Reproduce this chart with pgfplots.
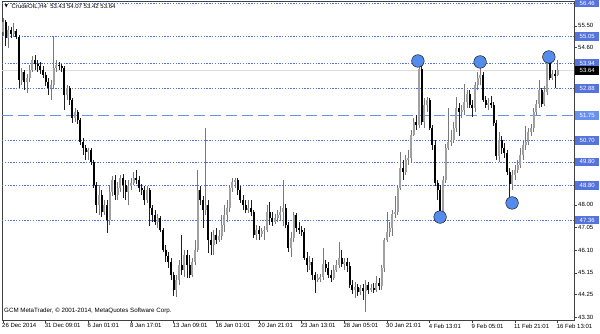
\documentclass[border=0pt]{standalone}
\usepackage{fontspec}
\setmainfont{Liberation Sans}
\newfontfamily\symfont{DejaVu Sans}
\usepackage{pgfplots}
\usepackage{pgfplotstable}
\pgfplotsset{compat=1.18}
\definecolor{lineblue}{RGB}{85,115,220}
\definecolor{dashblue}{RGB}{105,145,240}
\definecolor{circblue}{RGB}{85,140,235}
\definecolor{upgray}{RGB}{160,160,160}
\definecolor{upwick}{RGB}{120,120,120}
\definecolor{wickdn}{RGB}{30,30,30}
\pgfplotstableread{
i o h l c
0 55.25 55.83 55.08 55.66
1 55.66 55.75 54.66 54.99
2 54.99 55.50 54.57 55.33
3 55.33 55.45 54.99 55.16
4 55.16 55.62 55.04 55.29
5 55.29 55.37 54.95 55.04
6 55.04 55.12 52.90 53.23
7 53.23 53.74 53.02 53.57
8 53.57 53.65 52.81 53.15
9 53.15 53.48 52.69 53.32
10 53.32 53.86 53.15 53.65
11 53.65 54.24 53.57 54.07
12 54.07 54.28 53.65 53.90
13 53.90 54.07 53.57 53.82
14 53.82 53.99 53.48 53.65
15 53.65 53.82 53.32 53.44
16 53.44 53.57 52.98 53.15
17 53.15 53.32 52.60 52.90
18 52.90 53.23 52.40 53.02
19 53.02 55.04 52.90 53.74
20 53.74 54.07 53.57 53.86
21 53.86 53.99 53.65 53.82
22 53.82 53.90 53.57 53.74
23 53.74 53.82 51.98 52.60
24 52.60 53.02 52.40 52.90
25 52.90 52.98 52.19 52.40
26 52.40 52.48 51.43 51.64
27 51.64 52.06 51.47 51.89
28 51.89 51.98 51.39 51.56
29 51.56 51.64 50.51 50.63
30 50.63 50.80 50.09 50.38
31 50.38 50.51 49.88 50.22
32 50.22 50.38 49.88 50.30
33 50.30 50.38 49.67 49.80
34 49.80 49.88 48.71 48.83
35 48.83 48.96 47.66 47.99
36 47.99 48.83 47.57 48.41
37 48.41 48.62 47.49 47.70
38 47.70 48.20 47.57 47.99
39 47.99 48.20 46.82 47.37
40 47.37 48.79 47.16 48.54
41 48.54 49.21 48.37 49.04
42 49.04 49.25 48.20 48.41
43 48.41 48.96 48.20 48.71
44 48.71 49.25 48.54 49.13
45 49.13 49.29 48.29 48.83
46 48.83 49.04 48.20 48.54
47 48.54 49.04 47.99 48.79
48 48.79 49.13 48.62 48.92
49 48.92 49.38 48.83 49.13
50 49.13 49.46 48.87 49.04
51 49.04 49.21 48.54 48.71
52 48.71 48.87 48.41 48.62
53 48.62 48.79 47.99 48.20
54 48.20 48.79 48.08 48.62
55 48.62 48.71 47.11 47.87
56 47.87 47.99 47.28 47.57
57 47.57 47.78 47.16 47.28
58 47.28 47.62 47.03 47.45
59 47.45 47.53 46.86 46.95
60 46.95 47.03 46.02 46.11
61 46.11 46.32 45.61 45.86
62 45.86 46.02 45.36 45.61
63 45.61 45.77 44.85 45.06
64 45.06 45.19 44.18 44.43
65 44.43 45.06 44.14 44.85
66 44.85 45.69 44.64 45.48
67 45.48 46.74 45.06 45.27
68 45.27 46.11 44.98 45.90
69 45.90 46.11 44.94 45.48
70 45.48 45.90 44.94 45.06
71 45.06 45.77 44.98 45.61
72 45.61 46.53 45.48 46.11
73 46.11 49.46 46.02 48.62
74 48.62 48.79 47.99 48.20
75 48.20 48.37 47.03 47.78
76 47.78 51.22 47.57 47.99
77 47.99 48.20 45.98 46.53
78 46.53 46.86 45.90 46.32
79 46.32 46.95 45.90 46.74
80 46.74 47.03 46.36 46.53
81 46.53 46.95 46.44 46.70
82 46.70 47.57 46.53 47.16
83 47.16 47.99 46.86 47.57
84 47.57 48.20 47.28 47.87
85 47.87 48.83 47.70 48.71
86 48.71 49.13 48.54 48.96
87 48.96 49.13 48.71 49.04
88 49.04 49.13 48.41 48.62
89 48.62 48.79 48.08 48.20
90 48.20 48.41 47.78 47.99
91 47.99 48.20 47.66 47.78
92 47.78 48.20 47.66 47.87
93 47.87 48.20 47.53 47.70
94 47.70 47.78 46.61 46.74
95 46.74 47.16 46.53 46.95
96 46.95 47.11 46.53 46.78
97 46.78 47.03 46.65 46.90
98 46.90 47.11 46.53 46.95
99 46.95 47.99 46.86 47.70
100 47.70 48.12 47.16 47.45
101 47.45 47.70 47.11 47.28
102 47.28 47.62 47.20 47.45
103 47.45 47.78 47.28 47.57
104 47.57 47.95 47.37 47.70
105 47.70 49.04 47.11 47.87
106 47.87 48.04 47.03 47.16
107 47.16 47.28 46.02 46.19
108 46.19 46.86 45.82 46.61
109 46.61 47.70 46.44 47.57
110 47.57 47.66 46.86 47.03
111 47.03 47.28 46.78 46.95
112 46.95 47.11 46.70 46.86
113 46.86 47.03 45.69 45.77
114 45.77 46.02 45.19 45.48
115 45.48 45.86 45.27 45.61
116 45.61 45.77 44.85 45.06
117 45.06 45.19 44.31 44.85
118 44.85 45.10 44.77 44.94
119 44.89 45.10 44.77 44.98
120 44.98 46.19 44.85 45.52
121 45.52 45.69 45.19 45.36
122 45.36 45.61 44.94 45.06
123 45.06 45.27 44.77 44.94
124 44.94 45.48 44.85 45.27
125 45.27 45.69 45.19 45.48
126 45.48 46.44 45.36 45.77
127 45.77 46.11 45.40 45.52
128 45.52 45.77 45.27 45.61
129 45.61 45.77 45.19 45.44
130 45.44 45.61 44.52 44.64
131 44.64 44.85 44.27 44.43
132 44.43 44.77 44.10 44.56
133 44.56 44.68 44.18 44.35
134 44.35 44.64 44.22 44.52
135 44.52 44.68 44.01 44.39
136 44.39 44.85 43.51 44.64
137 44.64 44.77 44.27 44.43
138 44.43 44.68 44.35 44.52
139 44.52 44.73 44.31 44.43
140 44.43 45.02 44.35 44.73
141 44.73 44.94 44.43 44.60
142 44.60 45.48 44.43 45.36
143 45.36 46.61 45.19 46.53
144 46.53 47.70 46.44 46.86
145 46.86 47.28 46.65 47.03
146 47.03 47.78 46.70 47.62
147 47.62 48.37 47.45 47.70
148 47.70 48.83 47.57 48.71
149 48.71 50.22 48.62 49.54
150 49.54 49.88 49.04 49.38
151 49.38 50.09 49.25 49.88
152 49.88 50.30 49.67 49.96
153 49.96 51.14 49.80 50.93
154 50.93 51.64 50.89 51.47
155 51.47 51.77 51.14 51.35
156 51.35 54.07 51.22 53.69
157 53.69 53.82 51.35 51.47
158 51.47 52.48 51.22 52.19
159 52.19 52.52 51.89 52.40
160 52.40 52.48 51.14 51.22
161 51.22 51.35 50.30 50.51
162 50.51 50.72 48.79 48.92
163 48.92 49.04 48.20 48.62
164 48.62 48.83 47.37 47.66
165 47.66 49.21 47.45 49.04
166 49.04 50.55 48.92 50.38
167 50.38 52.06 50.30 50.63
168 50.63 51.14 50.47 50.72
169 50.72 51.47 50.59 51.22
170 51.22 52.52 51.05 52.06
171 52.06 52.27 50.89 51.89
172 51.89 52.19 51.64 51.98
173 51.98 53.07 51.77 52.31
174 52.31 52.81 52.06 52.65
175 52.65 52.81 52.06 52.19
176 52.19 52.40 51.68 52.06
177 52.06 53.15 51.89 53.02
178 53.02 53.57 52.81 53.32
179 53.32 53.99 53.02 53.44
180 53.44 53.57 52.31 52.40
181 52.40 52.56 52.06 52.19
182 52.19 52.48 51.98 52.27
183 52.27 52.56 52.06 52.19
184 52.19 52.31 51.31 51.43
185 51.43 51.56 49.88 50.05
186 50.05 51.05 49.80 50.72
187 50.72 50.89 50.13 50.38
188 50.38 50.59 49.96 50.17
189 50.17 50.30 49.25 49.38
190 49.38 49.54 48.29 48.87
191 48.87 49.46 48.62 49.25
192 49.25 49.67 49.04 49.46
193 49.46 49.88 49.34 49.67
194 49.67 50.38 49.54 50.09
195 50.09 50.72 49.88 50.51
196 50.51 51.31 50.30 50.63
197 50.63 51.22 50.51 51.05
198 51.05 51.39 50.89 51.22
199 51.22 52.06 51.05 51.89
200 51.89 52.40 51.77 52.23
201 52.23 53.23 52.06 52.81
202 52.81 52.90 52.10 52.23
203 52.23 52.98 52.14 52.73
204 52.73 54.16 52.60 53.99
205 53.99 54.28 53.23 53.32
206 53.32 53.65 53.23 53.48
207 53.48 53.65 52.90 53.40
208 53.43 54.07 53.42 53.64
}\data
\tikzset{pbox/.style={fill=lineblue, text=white, font=\fontsize{6}{7}\selectfont, inner sep=0pt, minimum height=8.6pt, minimum width=24pt, anchor=west}}
\begin{document}
\begin{tikzpicture}
\useasboundingbox (-2pt,-13pt) rectangle (598pt,320pt);
\begin{axis}[
  scale only axis, width=572pt, height=319pt,
  xmin=-0.375, xmax=214.12, ymin=43.175, ymax=56.544,
  axis line style={draw=black!75, line width=0.7pt},
  xtick={0,16,...,208},
  xticklabels={26 Dec 2014,31 Dec 09:01,6 Jan 01:01,8 Jan 17:01,13 Jan 09:01,16 Jan 01:01,20 Jan 21:01,23 Jan 13:01,28 Jan 05:01,30 Jan 21:01,4 Feb 13:01,9 Feb 05:01,11 Feb 21:01,16 Feb 13:01},
  xtick pos=left, ytick pos=right,
  tick align=outside, major tick length=3pt,
  tick style={black!75, line width=0.6pt},
  xticklabel style={anchor=north west, inner sep=0.5pt, xshift=-1.5pt, font=\fontsize{6}{7}\selectfont},
  ytick={43.30,44.25,45.15,46.10,47.05,48.00,54.60,55.50},
  /pgf/number format/assume math mode=true,
  yticklabel={\pgfmathprintnumber[fixed,fixed zerofill,precision=2]{\tick}},
  yticklabel style={anchor=west, inner sep=1pt, font=\fontsize{6}{7}\selectfont},
]
% horizontal level lines
\addplot[lineblue, dash pattern=on 1.4pt off 1.4pt, line width=0.7pt] coordinates {(-0.375,56.46) (214.12,56.46)};
\addplot[lineblue, dash pattern=on 1.4pt off 1.4pt, line width=0.7pt] coordinates {(-0.375,55.05) (214.12,55.05)};
\addplot[lineblue, dash pattern=on 1.4pt off 1.4pt, line width=0.7pt] coordinates {(-0.375,53.94) (214.12,53.94)};
\addplot[lineblue, dash pattern=on 1.4pt off 1.4pt, line width=0.7pt] coordinates {(-0.375,52.88) (214.12,52.88)};
\addplot[lineblue, dash pattern=on 1.4pt off 1.4pt, line width=0.7pt] coordinates {(-0.375,50.70) (214.12,50.70)};
\addplot[lineblue, dash pattern=on 1.4pt off 1.4pt, line width=0.7pt] coordinates {(-0.375,49.80) (214.12,49.80)};
\addplot[lineblue, dash pattern=on 1.4pt off 1.4pt, line width=0.7pt] coordinates {(-0.375,48.80) (214.12,48.80)};
\addplot[lineblue, dash pattern=on 1.4pt off 1.4pt, line width=0.7pt] coordinates {(-0.375,47.36) (214.12,47.36)};
\addplot[dashblue, dash pattern=on 11pt off 5pt, line width=1.3pt] coordinates {(-0.375,51.75) (214.12,51.75)};
\addplot[black!13, line width=1.3pt] coordinates {(-0.375,53.64) (214.12,53.64)};
% wicks (low to high)
\addplot[upwick, line width=0.7pt, mark=none, restrict expr to domain={\thisrow{c}-\thisrow{o}}{0:100},
  quiver={u=0, v=\thisrow{h}-\thisrow{l}}]
  table[x=i, y=l] {\data};
\addplot[wickdn, line width=0.7pt, mark=none, restrict expr to domain={\thisrow{c}-\thisrow{o}}{-100:-0.0001},
  quiver={u=0, v=\thisrow{h}-\thisrow{l}}]
  table[x=i, y=l] {\data};
% bodies (open to close)
\addplot[upgray, line width=2pt, mark=none, restrict expr to domain={\thisrow{c}-\thisrow{o}}{0:100},
  quiver={u=0, v=\thisrow{c}-\thisrow{o}}]
  table[x=i, y=o] {\data};
\addplot[black, line width=2pt, mark=none, restrict expr to domain={\thisrow{c}-\thisrow{o}}{-100:-0.0001},
  quiver={u=0, v=\thisrow{c}-\thisrow{o}}]
  table[x=i, y=o] {\data};
% swing markers
\addplot[only marks, mark=*, mark size=6.3pt, mark options={draw=none, fill=circblue}] coordinates {(155.6,54.03) (163.9,47.49) (178.9,53.99) (190.9,48.08) (204.7,54.20)};
\coordinate (r1) at (axis cs:214.12,56.46);
\coordinate (r2) at (axis cs:214.12,55.05);
\coordinate (r3) at (axis cs:214.12,53.94);
\coordinate (r4) at (axis cs:214.12,53.64);
\coordinate (r5) at (axis cs:214.12,52.88);
\coordinate (r6) at (axis cs:214.12,51.75);
\coordinate (r7) at (axis cs:214.12,50.70);
\coordinate (r8) at (axis cs:214.12,49.80);
\coordinate (r9) at (axis cs:214.12,48.80);
\coordinate (r10) at (axis cs:214.12,47.36);
\end{axis}
\node[pbox] at ([xshift=1pt]r1) {56.46};
\node[pbox] at ([xshift=1pt]r2) {55.05};
\node[pbox] at ([xshift=1pt]r3) {53.94};
\node[pbox, fill=black] at ([xshift=1pt]r4) {53.64};
\node[pbox] at ([xshift=1pt]r5) {52.88};
\node[pbox, fill=dashblue] at ([xshift=1pt]r6) {51.75};
\node[pbox] at ([xshift=1pt]r7) {50.70};
\node[pbox] at ([xshift=1pt]r8) {49.80};
\node[pbox] at ([xshift=1pt]r9) {48.80};
\node[pbox] at ([xshift=1pt]r10) {47.36};
\node[anchor=west, inner sep=0pt, font=\symfont\fontsize{4.5}{5}\selectfont] at (2.5pt,313.5pt) {▼};
\node[anchor=west, inner sep=0pt, font=\fontsize{6}{7}\selectfont] at (9.5pt,313.5pt) {CrudeOIL,H4\ \ 53.43 54.07 53.42 53.64};
\node[anchor=west, inner sep=0pt, font=\fontsize{6.2}{7}\selectfont] at (2pt,9pt) {GCM MetaTrader, © 2001-2014, MetaQuotes Software Corp.};
\end{tikzpicture}
\end{document}
